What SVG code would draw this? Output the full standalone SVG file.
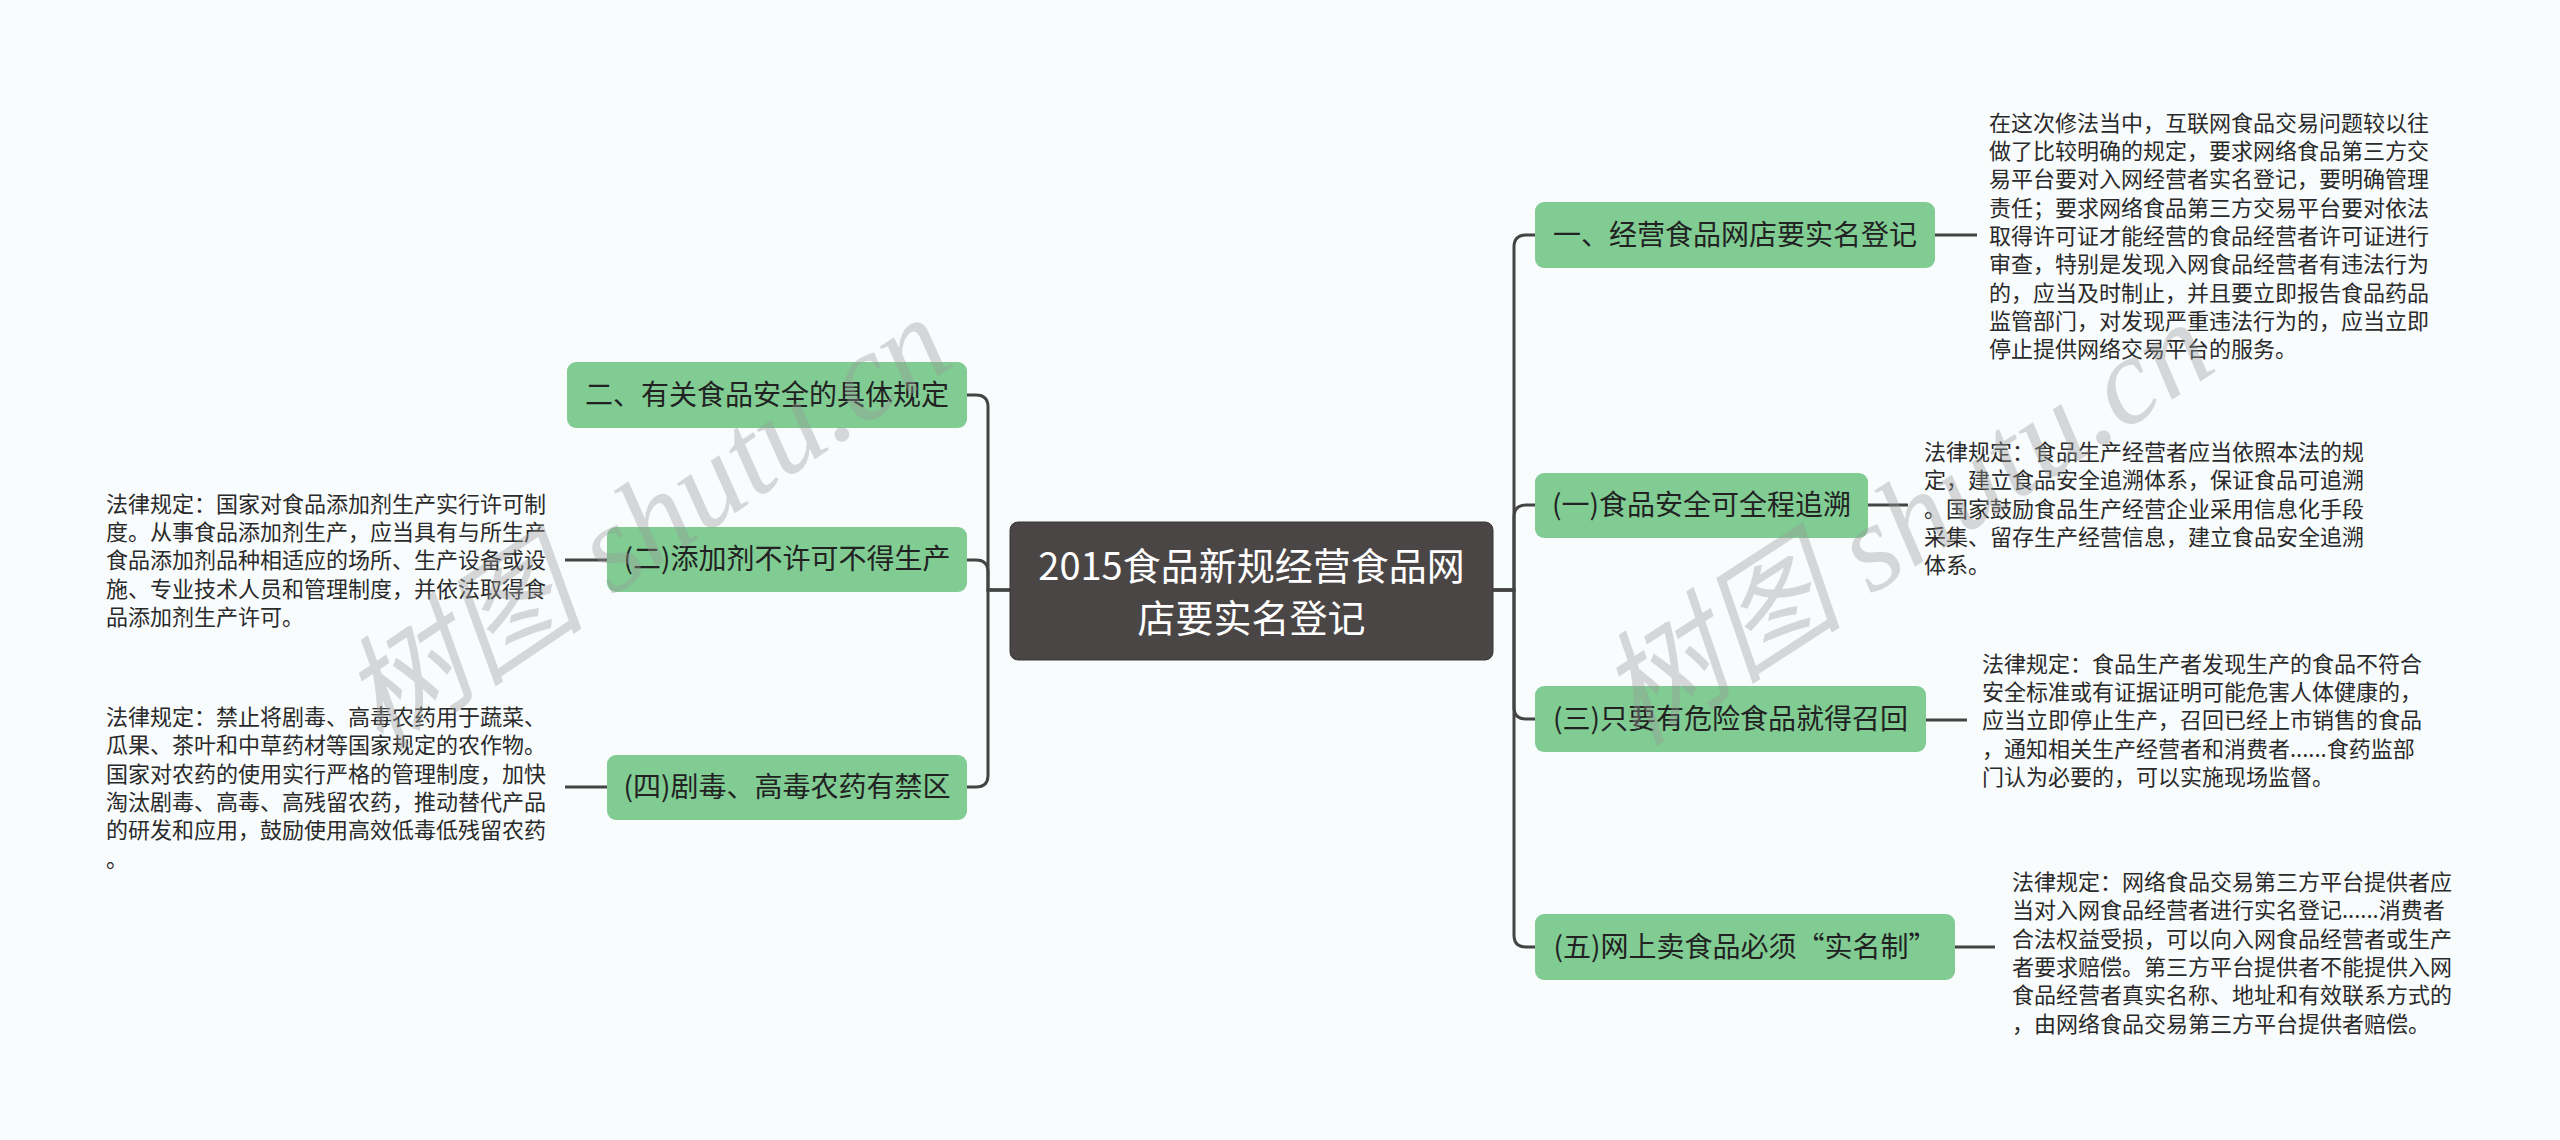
<svg xmlns="http://www.w3.org/2000/svg" width="2560" height="1140" viewBox="0 0 2560 1140">
<style>
.bg{fill:#f9fcfd}
.node rect{fill:#80cc93;}
.node text{font-family:"Noto Sans CJK SC","Noto Sans",sans-serif;font-size:28px;fill:#222;text-anchor:middle}
.root rect{fill:#4b4646;stroke:#3a3636;stroke-width:1}
.root text{font-family:"Noto Sans CJK SC","Noto Sans",sans-serif;font-size:38px;fill:#ffffff;text-anchor:middle}
.leaf text{font-family:"Noto Sans CJK SC","Noto Sans",sans-serif;font-size:22px;fill:#2a2a2a}
.conn path{fill:none;stroke:#444;stroke-width:3}
.wm{font-family:"Liberation Serif","Noto Sans CJK SC",serif;font-size:124px;fill:#9a9a9a;opacity:0.38;font-style:italic}
</style>
<rect class="bg" x="0" y="0" width="2560" height="1140"/>
<g id="connectors" class="conn">
<path d="M1493,590 H1514 V247 Q1514,235 1526,235 H1535"/>
<path d="M1493,590 H1514 V517 Q1514,505 1526,505 H1535"/>
<path d="M1493,590 H1514 V707 Q1514,719 1526,719 H1535"/>
<path d="M1493,590 H1514 V935 Q1514,947 1526,947 H1535"/>
<path d="M1010,590 H988 V407 Q988,395 976,395 H967"/>
<path d="M1010,590 H988 V572 Q988,560 976,560 H967"/>
<path d="M1010,590 H988 V775 Q988,787 976,787 H967"/>
<path d="M1935,235 H1977"/>
<path d="M1868,505 H1908"/>
<path d="M1926,720 H1967"/>
<path d="M1955,947 H1995"/>
<path d="M607,560 H565"/>
<path d="M607,787 H565"/>
</g>
<g id="root" class="root">
<rect x="1010" y="522" width="483" height="138" rx="8"/>
<text x="1251.5" y="580">2015食品新规经营食品网</text>
<text x="1251.5" y="632">店要实名登记</text>
</g>
<g id="n1" class="node">
<rect x="1535" y="202" width="400" height="66" rx="9"/>
<text x="1735" y="245">一、经营食品网店要实名登记</text>
</g>
<g id="n2" class="node">
<rect x="1535" y="473" width="333" height="65" rx="9"/>
<text x="1701.5" y="515">(一)食品安全可全程追溯</text>
</g>
<g id="n3" class="node">
<rect x="1535" y="686" width="391" height="66" rx="9"/>
<text x="1730.5" y="729">(三)只要有危险食品就得召回</text>
</g>
<g id="n5" class="node">
<rect x="1535" y="914" width="420" height="66" rx="9"/>
<text x="1745" y="957">(五)网上卖食品必须“实名制”</text>
</g>
<g id="l1" class="node">
<rect x="567" y="362" width="400" height="66" rx="9"/>
<text x="767" y="405">二、有关食品安全的具体规定</text>
</g>
<g id="l2" class="node">
<rect x="607" y="527" width="360" height="65" rx="9"/>
<text x="787" y="569">(二)添加剂不许可不得生产</text>
</g>
<g id="l3" class="node">
<rect x="607" y="755" width="360" height="65" rx="9"/>
<text x="787" y="797">(四)剧毒、高毒农药有禁区</text>
</g>
<g id="t1" class="leaf">
<text x="1989" y="130.7"><tspan x="1989">在这次修法当中，互联网食品交易问题较以往</tspan><tspan x="1989" dy="28.33">做了比较明确的规定，要求网络食品第三方交</tspan><tspan x="1989" dy="28.33">易平台要对入网经营者实名登记，要明确管理</tspan><tspan x="1989" dy="28.33">责任；要求网络食品第三方交易平台要对依法</tspan><tspan x="1989" dy="28.33">取得许可证才能经营的食品经营者许可证进行</tspan><tspan x="1989" dy="28.33">审查，特别是发现入网食品经营者有违法行为</tspan><tspan x="1989" dy="28.33">的，应当及时制止，并且要立即报告食品药品</tspan><tspan x="1989" dy="28.33">监管部门，对发现严重违法行为的，应当立即</tspan><tspan x="1989" dy="28.33">停止提供网络交易平台的服务。</tspan></text>
</g>
<g id="t2" class="leaf">
<text x="1924" y="460"><tspan x="1924">法律规定：食品生产经营者应当依照本法的规</tspan><tspan x="1924" dy="28.33">定，建立食品安全追溯体系，保证食品可追溯</tspan><tspan x="1924" dy="28.33">。国家鼓励食品生产经营企业采用信息化手段</tspan><tspan x="1924" dy="28.33">采集、留存生产经营信息，建立食品安全追溯</tspan><tspan x="1924" dy="28.33">体系。</tspan></text>
</g>
<g id="t3" class="leaf">
<text x="1982" y="671.7"><tspan x="1982">法律规定：食品生产者发现生产的食品不符合</tspan><tspan x="1982" dy="28.33">安全标准或有证据证明可能危害人体健康的，</tspan><tspan x="1982" dy="28.33">应当立即停止生产，召回已经上市销售的食品</tspan><tspan x="1982" dy="28.33">，通知相关生产经营者和消费者......食药监部</tspan><tspan x="1982" dy="28.33">门认为必要的，可以实施现场监督。</tspan></text>
</g>
<g id="t5" class="leaf">
<text x="2012" y="890"><tspan x="2012">法律规定：网络食品交易第三方平台提供者应</tspan><tspan x="2012" dy="28.33">当对入网食品经营者进行实名登记......消费者</tspan><tspan x="2012" dy="28.33">合法权益受损，可以向入网食品经营者或生产</tspan><tspan x="2012" dy="28.33">者要求赔偿。第三方平台提供者不能提供入网</tspan><tspan x="2012" dy="28.33">食品经营者真实名称、地址和有效联系方式的</tspan><tspan x="2012" dy="28.33">，由网络食品交易第三方平台提供者赔偿。</tspan></text>
</g>
<g id="tl2" class="leaf">
<text x="106" y="511.7"><tspan x="106">法律规定：国家对食品添加剂生产实行许可制</tspan><tspan x="106" dy="28.33">度。从事食品添加剂生产，应当具有与所生产</tspan><tspan x="106" dy="28.33">食品添加剂品种相适应的场所、生产设备或设</tspan><tspan x="106" dy="28.33">施、专业技术人员和管理制度，并依法取得食</tspan><tspan x="106" dy="28.33">品添加剂生产许可。</tspan></text>
</g>
<g id="tl3" class="leaf">
<text x="106" y="725"><tspan x="106">法律规定：禁止将剧毒、高毒农药用于蔬菜、</tspan><tspan x="106" dy="28.33">瓜果、茶叶和中草药材等国家规定的农作物。</tspan><tspan x="106" dy="28.33">国家对农药的使用实行严格的管理制度，加快</tspan><tspan x="106" dy="28.33">淘汰剧毒、高毒、高残留农药，推动替代产品</tspan><tspan x="106" dy="28.33">的研发和应用，鼓励使用高效低毒低残留农药</tspan><tspan x="106" dy="28.33">。</tspan></text>
</g>
<text class="wm" x="645" y="565" text-anchor="middle" transform="rotate(-34 645 522)">树图 shutu.cn</text>
<text class="wm" x="1905" y="565" text-anchor="middle" transform="rotate(-33 1905 522)">树图 shutu.cn</text>
</svg>
